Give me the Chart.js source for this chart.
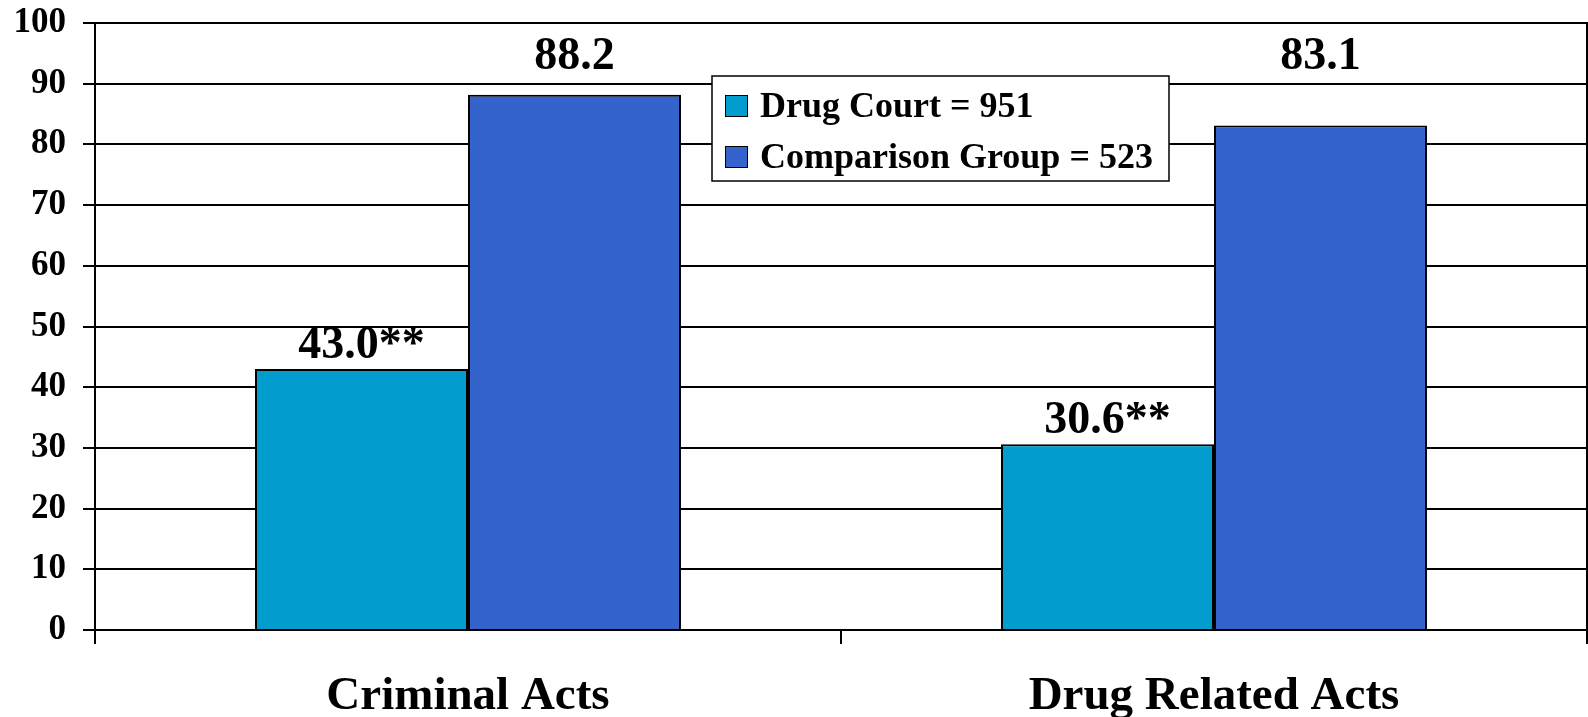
<!DOCTYPE html>
<html>
<head>
<meta charset="utf-8">
<script src="https://cdn.jsdelivr.net/npm/chart.js@4.4.1/dist/chart.umd.min.js"></script>
<style>
  html, body { margin: 0; padding: 0; background: #ffffff; }
  #wrap { width: 1588px; height: 717px; position: relative; }
</style>
</head>
<body>
<div id="wrap"><canvas id="c" width="1588" height="717"></canvas></div>
<script>
const categories = ["Criminal Acts", "Drug Related Acts"];
const drugCourtValues = [43.0, 30.6];
const comparisonValues = [88.2, 83.1];
const drugCourtMarks = ["**", "**"];
const comparisonMarks = ["", ""];
const seriesLabels = ["Drug Court = 951", "Comparison Group = 523"];
const yTicks = [0, 10, 20, 30, 40, 50, 60, 70, 80, 90, 100];

const FONT = "'Liberation Serif', 'Times New Roman', serif";

const dataLabelPlugin = {
  id: 'dataLabels',
  afterDatasetsDraw(chart) {
    const ctx = chart.ctx;
    ctx.save();
    ctx.font = "bold 46px " + FONT;
    ctx.fillStyle = '#000';
    ctx.textAlign = 'center';
    ctx.textBaseline = 'alphabetic';
    chart.data.datasets.forEach((ds, di) => {
      const meta = chart.getDatasetMeta(di);
      meta.data.forEach((bar, i) => {
        const txt = ds.data[i].toFixed(1) + (ds.marks[i] || '');
        let y = ds.labelTop ? chart.chartArea.top + 46 : bar.y - 11;
        ctx.fillText(txt, bar.x, y);
      });
    });
    ctx.restore();
  }
};

const frameLegendPlugin = {
  id: 'frameLegend',
  afterDraw(chart) {
    const ctx = chart.ctx;
    const a = chart.chartArea;
    ctx.save();
    ctx.strokeStyle = '#000';
    ctx.lineWidth = 2;
    ctx.beginPath();
    ctx.moveTo(a.right, a.top - 1);
    ctx.lineTo(a.right, a.bottom + 14);
    ctx.stroke();
    const bx = 712, by = 76, bw = 457, bh = 105;
    ctx.fillStyle = '#fff';
    ctx.fillRect(bx, by, bw, bh);
    ctx.lineWidth = 1.5;
    ctx.strokeRect(bx, by, bw, bh);
    ctx.font = "bold 36px " + FONT;
    ctx.textAlign = 'left';
    ctx.textBaseline = 'middle';
    const rows = [106, 157];
    chart.data.datasets.forEach((ds, i) => {
      ctx.fillStyle = ds.backgroundColor;
      ctx.fillRect(725, rows[i] - 11, 23, 22);
      ctx.lineWidth = 1;
      ctx.strokeStyle = '#000';
      ctx.strokeRect(725.5, rows[i] - 10.5, 22, 21);
      ctx.fillStyle = '#000';
      ctx.fillText(ds.label, 760, rows[i] + 2);
    });
    ctx.restore();
  }
};

new Chart(document.getElementById('c'), {
  type: 'bar',
  data: {
    labels: categories,
    datasets: [
      {
        label: seriesLabels[0],
        data: drugCourtValues,
        marks: drugCourtMarks,
        backgroundColor: '#029DCE',
        borderColor: '#000',
        borderWidth: 2,
        borderSkipped: 'bottom'
      },
      {
        label: seriesLabels[1],
        data: comparisonValues,
        marks: comparisonMarks,
        labelTop: true,
        backgroundColor: '#3464CB',
        borderColor: '#000',
        borderWidth: 2,
        borderSkipped: 'bottom'
      }
    ]
  },
  options: {
    responsive: false,
    animation: false,
    devicePixelRatio: 1,
    layout: { padding: { top: 23, right: 1, left: 0, bottom: 0 } },
    datasets: { bar: { barPercentage: 1.0, categoryPercentage: 0.571 } },
    plugins: {
      legend: { display: false },
      tooltip: { enabled: false }
    },
    scales: {
      x: {
        offset: true,
        grid: {
          offset: true,
          drawOnChartArea: false,
          drawTicks: true,
          tickLength: 14,
          color: '#000',
          lineWidth: 2
        },
        border: { display: true, color: '#000', width: 2 },
        ticks: {
          color: '#000',
          font: { family: FONT, size: 47, weight: 'bold' },
          padding: 25,
          maxRotation: 0,
          autoSkip: false
        },
        afterFit(scale) { scale.height = 87; }
      },
      y: {
        min: 0,
        max: 100,
        afterBuildTicks(scale) { scale.ticks = yTicks.map(v => ({ value: v })); },
        grid: {
          color: '#000',
          lineWidth: 2,
          tickLength: 12,
          drawTicks: true
        },
        border: { display: true, color: '#000', width: 2 },
        ticks: {
          color: '#000',
          font: { family: FONT, size: 35, weight: 'bold', lineHeight: 0.01 },
          padding: 17
        },
        afterFit(scale) { scale.width = 95; }
      }
    }
  },
  plugins: [dataLabelPlugin, frameLegendPlugin]
});
</script>
</body>
</html>
